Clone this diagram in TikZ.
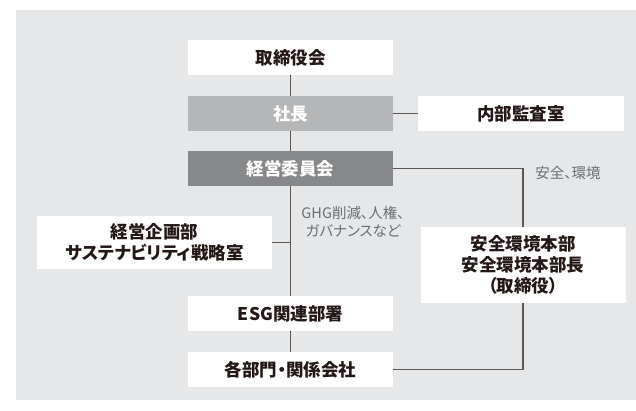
\documentclass[tikz,border=0pt]{standalone}
\usepackage{fontspec}
\setmainfont{Noto Sans CJK JP}[RawFeature=+palt]
\definecolor{bggray}{HTML}{E6E7E8}
\definecolor{presgray}{HTML}{B5B6B8}
\definecolor{boardgray}{HTML}{87888A}
\definecolor{linegray}{HTML}{595757}
\definecolor{notegray}{HTML}{6D6E70}
\definecolor{textblack}{HTML}{231815}
\tikzset{
  orgbox/.style={fill=white, text=textblack, inner sep=0pt, align=center,
    minimum width=205pt, minimum height=35pt,
    font=\fontsize{17.5}{20}\selectfont\bfseries},
  graybox/.style={orgbox, fill=#1, text=white},
  link/.style={draw=linegray, line width=1.5pt},
  note/.style={text=notegray, align=center, inner sep=0pt,
    font=\fontsize{14.5}{18}\selectfont}
}
\begin{document}
\begin{tikzpicture}[x=1pt, y=-1pt]
  \useasboundingbox (0,0) rectangle (636,410);
  \fill[bggray] (16,10) rectangle (636,400);

  % center column
  \node[orgbox] (board) at (290.5,57.5) {取締役会};
  \node[graybox=presgray] (pres) at (290.5,113.5) {社長};
  \node[graybox=boardgray] (mgmt) at (290.5,168.5) {経営委員会};
  \node[orgbox] (esg) at (290.5,313.5) {ESG関連部署};
  \node[orgbox] (units) at (290.5,369.5) {各部門・関係会社};

  % side boxes
  \node[orgbox, minimum width=206pt] (audit) at (521,113.5) {内部監査室};
  \node[orgbox, minimum width=235pt, minimum height=53pt, font=\fontsize{17.5}{21}\selectfont\bfseries]
    (plan) at (154.5,242.5) {経営企画部\\サステナビリティ戦略室};
  \node[orgbox, minimum width=205pt, minimum height=76pt, font=\fontsize{17.5}{21}\selectfont\bfseries]
    (safety) at (523,265) {安全環境本部\\安全環境本部長\\（取締役）};

  % notes
  \node[note] (ghg) at (353,222) {GHG削減、人権、\\ガバナンスなど};
  \node[note] (safenote) at (568,173) {安全、環境};

  % connectors
  \draw[link] (board) -- (pres);
  \draw[link] (pres) -- (mgmt);
  \draw[link] (mgmt) -- (esg);
  \draw[link] (esg) -- (units);
  \draw[link] (pres) -- (audit);
  \draw[link] (plan.east) -- (plan.east -| mgmt.south);
  \draw[link] (mgmt.east) -| (safety.north);
  \draw[link] (units.east) -| (safety.south);
\end{tikzpicture}
\end{document}
